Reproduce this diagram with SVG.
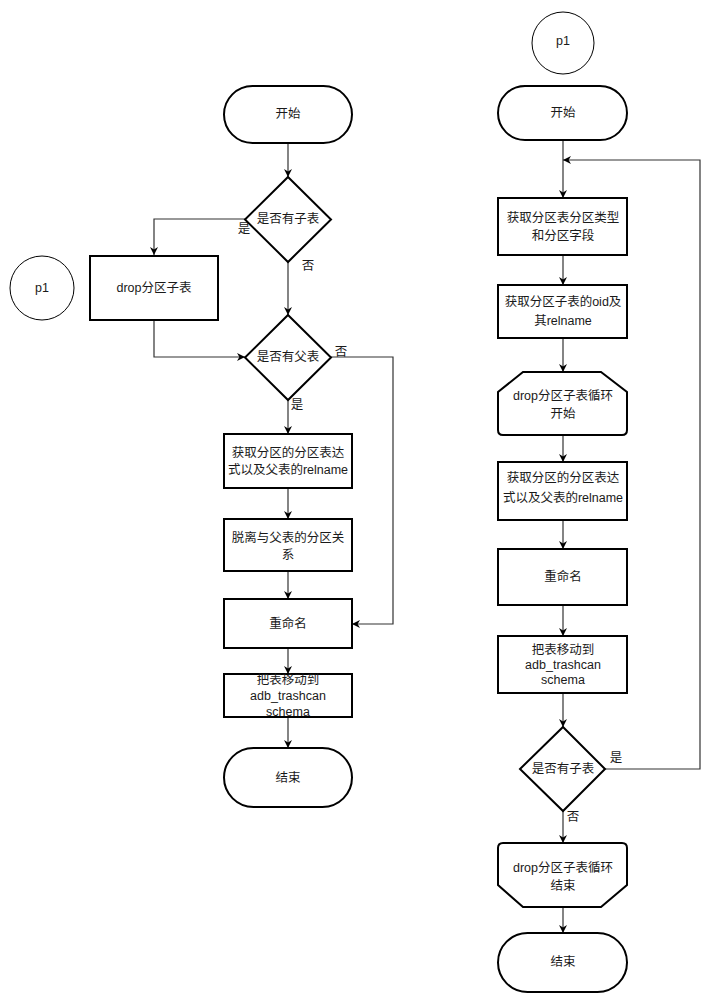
<svg xmlns="http://www.w3.org/2000/svg" width="720" height="1004" viewBox="0 0 720 1004">
<defs>
<marker id="arr" viewBox="0 0 10 10" refX="10" refY="5" markerWidth="8" markerHeight="8" markerUnits="userSpaceOnUse" orient="auto">
<path d="M0,0 L10,5 L0,10 L3,5 z" fill="#000"/>
</marker>
<style>
.n{fill:#fff;stroke:#000;stroke-width:2}
.c{fill:#fff;stroke:#000;stroke-width:1}
.e{fill:none;stroke:#333;stroke-width:1.2;marker-end:url(#arr)}
.l{fill:none;stroke:#333;stroke-width:1.2}
text{font-family:"Liberation Sans","Noto Sans CJK SC",sans-serif;font-size:12.5px;fill:#1a1a1a;text-anchor:middle;dominant-baseline:central}
</style>
</defs>
<rect width="720" height="1004" fill="#fff"/>
<g id="connectors">
<path class="e" d="M288,143 V177"/>
<path class="e" d="M245,219 H154 V255"/>
<path class="e" d="M288,262 V315"/>
<path class="e" d="M154,320 V357 H245"/>
<path class="e" d="M331,357 H393 V624 H352"/>
<path class="e" d="M288,400 V434"/>
<path class="e" d="M288,488 V519"/>
<path class="e" d="M288,571 V599"/>
<path class="e" d="M288,648 V674"/>
<path class="e" d="M288,717 V748"/>
<path class="e" d="M563,140 V198"/>
<path class="e" d="M605,769 H700 V160 H563"/>
<path class="e" d="M563,255 V285"/>
<path class="e" d="M563,338 V372"/>
<path class="e" d="M563,435 V462"/>
<path class="e" d="M563,520 V549"/>
<path class="e" d="M563,605 V636"/>
<path class="e" d="M563,693 V727"/>
<path class="e" d="M563,811 V843"/>
<path class="e" d="M563,907 V933"/>
<text x="244" y="229">是</text>
<text x="308" y="266">否</text>
<text x="341" y="352">否</text>
<text x="297" y="405">是</text>
<text x="616" y="758">是</text>
<text x="573" y="817">否</text>
</g>
<g id="L_start"><rect class="n" x="224" y="86" width="128" height="57" rx="28.5"/><text x="288" y="114">开始</text></g>
<g id="L_dec1"><path class="n" d="M288,177 L331,219.5 L288,262 L245,219.5 Z"/><text x="288" y="219">是否有子表</text></g>
<g id="L_drop"><rect class="n" x="90" y="256" width="128" height="64"/><text x="154" y="288">drop分区子表</text></g>
<g id="L_p1"><circle class="c" cx="42" cy="288" r="32"/><text x="42" y="288">p1</text></g>
<g id="L_dec2"><path class="n" d="M288,315 L331,357.5 L288,400 L245,357.5 Z"/><text x="288" y="357">是否有父表</text></g>
<g id="L_expr"><rect class="n" x="224" y="434" width="128" height="54"/><text x="288" y="453">获取分区的分区表达</text><text x="288" y="470">式以及父表的relname</text></g>
<g id="L_detach"><rect class="n" x="224" y="519" width="128" height="52"/><text x="288" y="538">脱离与父表的分区关</text><text x="288" y="555">系</text></g>
<g id="L_rename"><rect class="n" x="224" y="599" width="128" height="49"/><text x="288" y="624">重命名</text></g>
<g id="L_move"><rect class="n" x="224" y="674" width="128" height="43"/><text x="288" y="680">把表移动到</text><text x="288" y="696">adb_trashcan</text><text x="288" y="712">schema</text></g>
<g id="L_end"><rect class="n" x="224" y="748" width="128" height="59" rx="29.5"/><text x="288" y="778">结束</text></g>
<g id="R_p1"><circle class="c" cx="563" cy="43" r="31"/><text x="563" y="41">p1</text></g>
<g id="R_start"><rect class="n" x="498" y="86" width="129" height="54" rx="27"/><text x="563" y="113">开始</text></g>
<g id="R_type"><rect class="n" x="498" y="198" width="129" height="57"/><text x="563" y="218">获取分区表分区类型</text><text x="563" y="236">和分区字段</text></g>
<g id="R_oid"><rect class="n" x="498" y="285" width="129" height="53"/><text x="563" y="302">获取分区子表的oid及</text><text x="563" y="321">其relname</text></g>
<g id="R_loopstart"><path class="n" d="M523,372 H601 L627,392 V430 Q627,435 622,435 H503 Q498,435 498,430 V392 Z"/><text x="563" y="396">drop分区子表循环</text><text x="563" y="414">开始</text></g>
<g id="R_expr"><rect class="n" x="498" y="462" width="129" height="58"/><text x="563" y="478">获取分区的分区表达</text><text x="563" y="498">式以及父表的relname</text></g>
<g id="R_rename"><rect class="n" x="498" y="549" width="129" height="56"/><text x="563" y="577">重命名</text></g>
<g id="R_move"><rect class="n" x="498" y="636" width="129" height="57"/><text x="563" y="650">把表移动到</text><text x="563" y="665">adb_trashcan</text><text x="563" y="680">schema</text></g>
<g id="R_dec"><path class="n" d="M563,727 L605,769 L563,811 L520,769 Z"/><text x="563" y="769">是否有子表</text></g>
<g id="R_loopend"><path class="n" d="M503,843 H622 Q627,843 627,848 V885 L601,907 H523 L498,885 V848 Q498,843 503,843 Z"/><text x="563" y="868">drop分区子表循环</text><text x="563" y="886">结束</text></g>
<g id="R_end"><rect class="n" x="498" y="933" width="129" height="59" rx="29.5"/><text x="563" y="962">结束</text></g>
</svg>
